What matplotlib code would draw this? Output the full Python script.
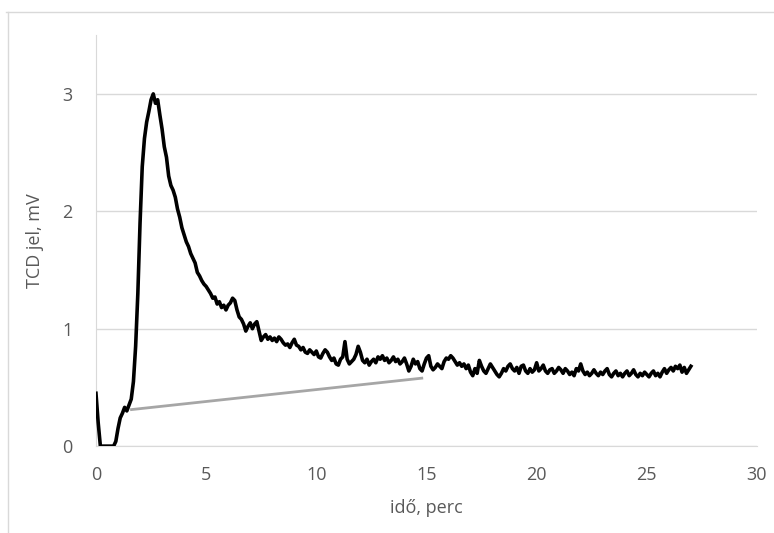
import numpy as np
import matplotlib
matplotlib.use('Agg')
from matplotlib import pyplot as plt
from matplotlib.lines import Line2D

plt.rcParams['font.family'] = ['Open Sans', 'DejaVu Sans']

step = 0.1
signal = [
    0.45, 0.20, 0.00, 0.00, 0.00, 0.00, 0.00, 0.00, 0.00, 0.04,
    0.15, 0.24, 0.28, 0.33, 0.30, 0.35, 0.40, 0.55, 0.85, 1.30,
    1.90, 2.38, 2.62, 2.76, 2.85, 2.95, 3.00, 2.92, 2.95, 2.82,
    2.70, 2.55, 2.46, 2.30, 2.22, 2.18, 2.12, 2.02, 1.95, 1.86,
    1.80, 1.74, 1.70, 1.64, 1.60, 1.56, 1.48, 1.45, 1.41, 1.38,
    1.36, 1.33, 1.30, 1.26, 1.27, 1.21, 1.23, 1.18, 1.20, 1.16,
    1.20, 1.22, 1.26, 1.24, 1.16, 1.10, 1.08, 1.04, 0.98, 1.02,
    1.05, 1.00, 1.04, 1.06, 0.98, 0.90, 0.93, 0.95, 0.91, 0.93,
    0.90, 0.92, 0.89, 0.93, 0.91, 0.88, 0.86, 0.87, 0.84, 0.88,
    0.91, 0.86, 0.85, 0.82, 0.84, 0.80, 0.79, 0.82, 0.80, 0.78,
    0.81, 0.76, 0.75, 0.79, 0.82, 0.80, 0.76, 0.73, 0.75, 0.70,
    0.69, 0.74, 0.76, 0.89, 0.74, 0.70, 0.72, 0.74, 0.78, 0.85,
    0.80, 0.73, 0.71, 0.74, 0.69, 0.72, 0.74, 0.71, 0.76, 0.74,
    0.77, 0.73, 0.75, 0.71, 0.73, 0.76, 0.72, 0.74, 0.70, 0.72,
    0.75, 0.70, 0.64, 0.68, 0.74, 0.70, 0.72, 0.66, 0.64, 0.70,
    0.75, 0.77, 0.68, 0.65, 0.67, 0.70, 0.68, 0.66, 0.72, 0.75,
    0.74, 0.77, 0.75, 0.72, 0.69, 0.71, 0.68, 0.70, 0.66, 0.69,
    0.63, 0.60, 0.66, 0.62, 0.73, 0.68, 0.64, 0.62, 0.66, 0.70,
    0.67, 0.64, 0.61, 0.59, 0.62, 0.66, 0.64, 0.68, 0.70, 0.66,
    0.64, 0.67, 0.62, 0.68, 0.69, 0.64, 0.62, 0.66, 0.63, 0.65,
    0.71, 0.64, 0.66, 0.69, 0.64, 0.62, 0.65, 0.66, 0.62, 0.64,
    0.67, 0.65, 0.62, 0.66, 0.64, 0.61, 0.63, 0.60, 0.66, 0.64,
    0.70, 0.64, 0.61, 0.63, 0.60, 0.62, 0.65, 0.62, 0.60, 0.63,
    0.61, 0.64, 0.66, 0.61, 0.59, 0.62, 0.64, 0.60, 0.62, 0.59,
    0.62, 0.64, 0.60, 0.62, 0.65, 0.61, 0.59, 0.62, 0.60, 0.63,
    0.61, 0.59, 0.62, 0.64, 0.60, 0.62, 0.59, 0.63, 0.66, 0.62,
    0.65, 0.67, 0.64, 0.68, 0.66, 0.69, 0.63, 0.67, 0.62, 0.65,
    0.68,
]
time = np.arange(len(signal)) * step

# baseline drawn under the peak
base_x = [1.55, 14.85]
base_y = [0.31, 0.58]

x_ticks = [0, 5, 10, 15, 20, 25, 30]
y_ticks = [0, 1, 2, 3]

fig = plt.figure(figsize=(7.74, 5.33), dpi=100)
ax = fig.add_axes([0.124, 0.163, 0.854, 0.771])

grid_col = '#d9d9d9'
txt_col = '#595959'

ax.plot(base_x, base_y, color='#a6a6a6', lw=2.0, solid_capstyle='butt', zorder=2)
ax.plot(time, signal, color='black', lw=2.6, zorder=3)

ax.set_xlim(0, 30)
ax.set_ylim(0, 3.5)
ax.set_xticks(x_ticks)
ax.set_yticks(y_ticks)
ax.grid(axis='y', color=grid_col, lw=1)
ax.set_axisbelow(True)
for s in ['top', 'right']:
    ax.spines[s].set_visible(False)
ax.spines['left'].set_color(grid_col)
ax.spines['bottom'].set_color(grid_col)
ax.tick_params(length=0, labelsize=13, colors=txt_col)
ax.tick_params(axis='x', pad=14)
ax.tick_params(axis='y', pad=17)

ax.set_xlabel('idő, perc', fontsize=13, color=txt_col, labelpad=11)
ax.set_ylabel('TCD jel, mV', fontsize=13, color=txt_col, labelpad=13)

# outer chart frame (cut off at right and bottom)
fig.add_artist(Line2D([8 / 774, 8 / 774], [0, 1 - 12 / 533], color=grid_col, lw=1))
fig.add_artist(Line2D([6 / 774, 1], [1 - 12 / 533, 1 - 12 / 533], color=grid_col, lw=1))

fig.savefig('out.png', dpi=100)
